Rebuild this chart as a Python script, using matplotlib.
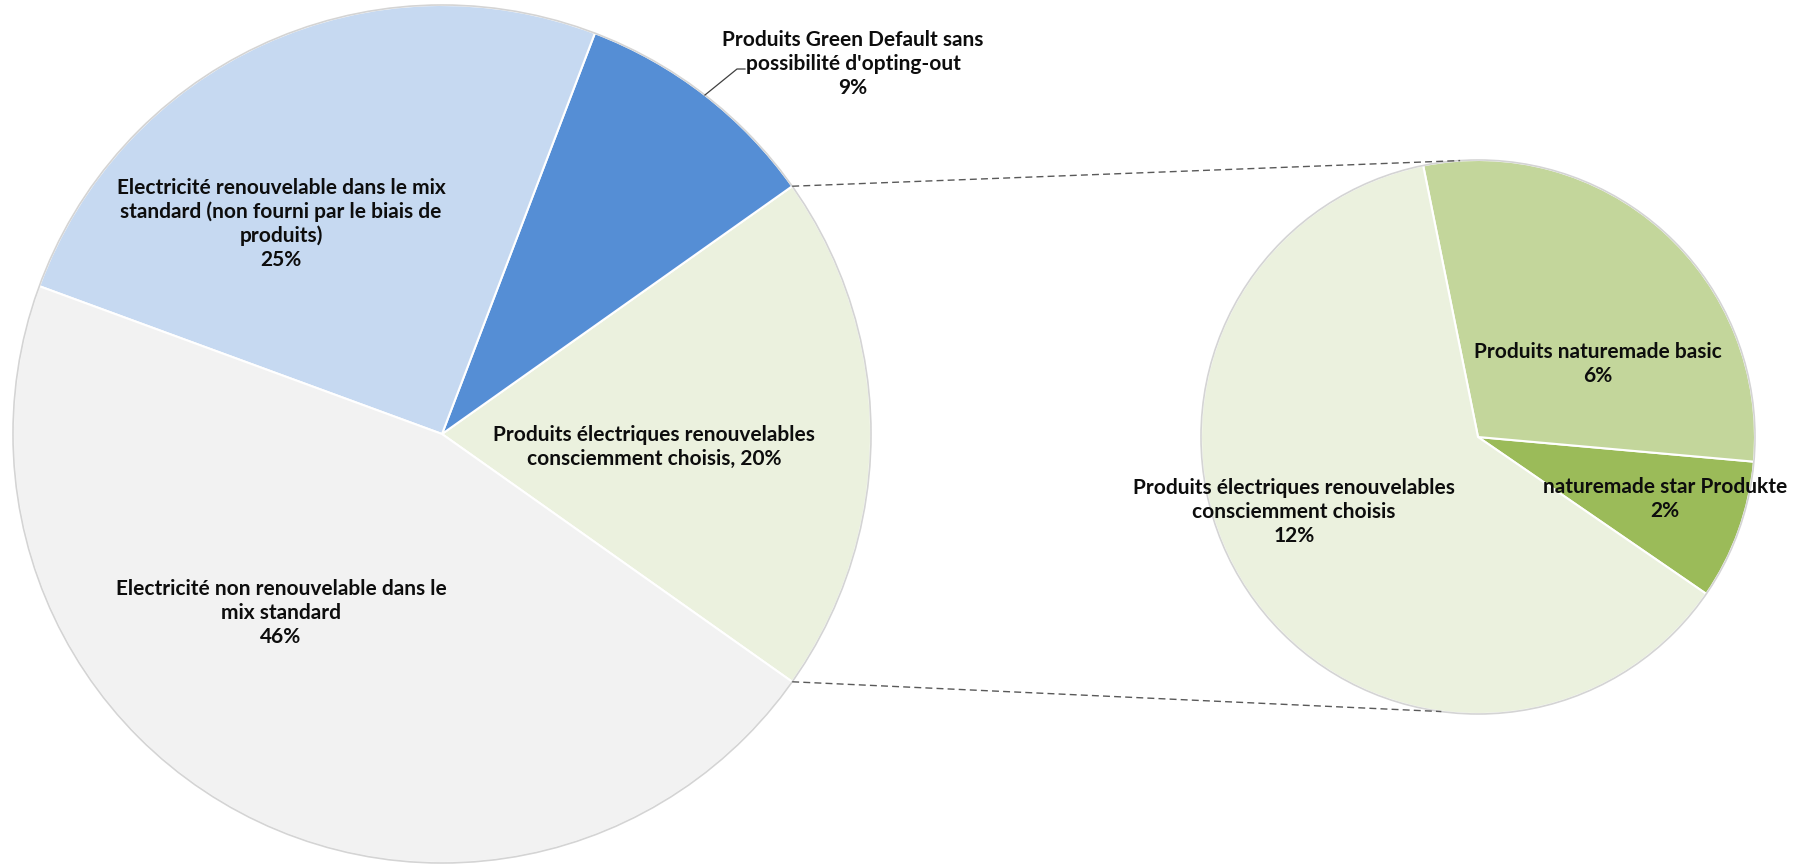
import numpy as np
import matplotlib
matplotlib.use("Agg")
import matplotlib.pyplot as plt
from matplotlib.patches import Circle

# ---- data ----
main_labels = ["Produits électriques renouvelables\nconsciemment choisis",
               "Produits Green Default sans\npossibilité d'opting-out",
               "Electricité renouvelable dans le mix\nstandard (non fourni par le biais de\nproduits)",
               "Electricité non renouvelable dans le\nmix standard"]
main_values = [None, 9.4, 25.2, 45.8]   # first slice = sum of secondary pie
sec_labels = ["naturemade star Produkte",
              "Produits naturemade basic",
              "Produits électriques renouvelables\nconsciemment choisis"]
sec_values = [1.6, 5.8, 12.2]
main_values[0] = sum(sec_values)

main_colors = ["#EBF1DE", "#558ED5", "#C6D9F1", "#F2F2F2"]
sec_colors = ["#9BBB59", "#C3D69B", "#EBF1DE"]

plt.rcParams['font.family'] = ['Lato', 'DejaVu Sans']
fig = plt.figure(figsize=(18, 8.65), dpi=100)
ax = fig.add_axes([0, 0, 1, 1])

C1, R1 = (442, 431), 429
C2, R2 = (1478, 428), 277

tot = sum(main_values)
start1 = -main_values[0] / tot * 360 / 2
w1, _ = ax.pie(main_values, colors=main_colors, startangle=start1, counterclock=True,
               center=C1, radius=R1, wedgeprops=dict(edgecolor="white", linewidth=1.5))
w2, _ = ax.pie(sec_values, colors=sec_colors, startangle=-34.5, counterclock=True,
               center=C2, radius=R2, wedgeprops=dict(edgecolor="white", linewidth=1.5))
for c, r in [(C1, R1), (C2, R2)]:
    ax.add_patch(Circle(c, r, fill=False, edgecolor="#D4D4D4", linewidth=1.2, zorder=3))

ax.set_xlim(0, 1800)
ax.set_ylim(0, 865)
ax.set_aspect("equal")
ax.axis("off")

# connector lines
def pt(c, r, ang):
    a = np.deg2rad(ang)
    return c[0] + r * np.cos(a), c[1] + r * np.sin(a)

g = w1[0]
for a1, a2 in [(g.theta2, 93.7), (g.theta1, 262.4)]:
    p1 = pt(C1, R1, a1)
    p2 = pt(C2, R2, a2)
    ax.plot([p1[0], p2[0]], [p1[1], p2[1]], color="#595959", lw=1.0,
            ls=(0, (5, 3)), zorder=4)

def pct(v, t):
    return f"{round(v / t * 100):.0f}%"

fs = 15
kw = dict(ha="center", va="center", fontsize=fs, fontweight="bold",
          color="#0d0d0d", linespacing=1.22, zorder=5)

ax.text(654, 418, main_labels[0] + ", " + pct(main_values[0], tot), **kw)
ax.text(853, 801, main_labels[1] + "\n" + pct(main_values[1], tot), **kw)
ax.text(281, 641, main_labels[2] + "\n" + pct(main_values[2], tot), **kw)
ax.text(281, 252, main_labels[3] + "\n" + pct(main_values[3], tot), **kw)

ax.text(1665, 366, sec_labels[0] + "\n" + pct(sec_values[0], tot), **kw)
ax.text(1598, 501, sec_labels[1] + "\n" + pct(sec_values[1], tot), **kw)
ax.text(1294, 353, sec_labels[2] + "\n" + pct(sec_values[2], tot), **kw)

# leader line for Green Default label
b = w1[1]
mid = (b.theta1 + b.theta2) / 2
p = pt(C1, R1, mid)
ax.plot([p[0], 737, 745], [p[1], 796, 796], color="#404040", lw=0.9, zorder=4)

fig.savefig("out.png", dpi=100)
